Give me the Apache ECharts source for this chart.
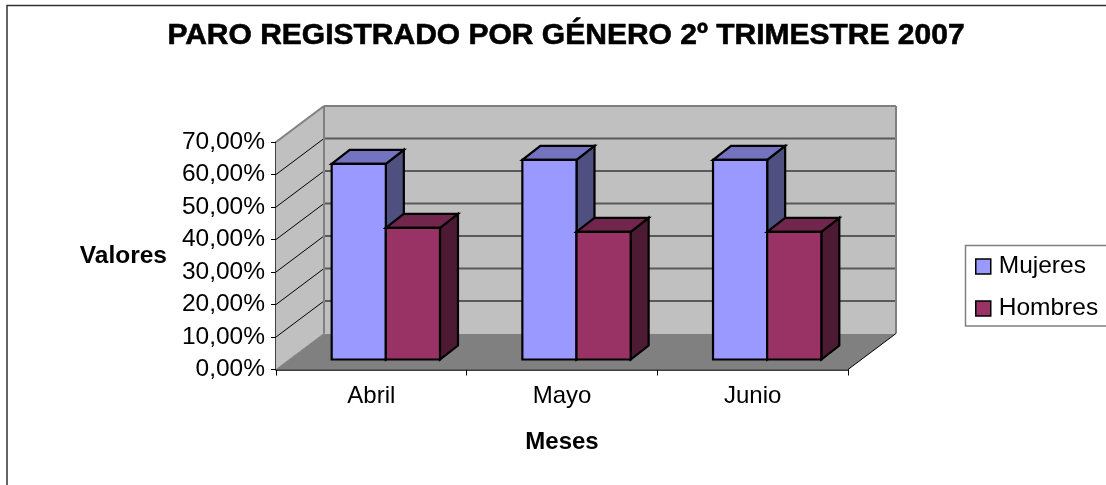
<!DOCTYPE html>
<html><head><meta charset="utf-8">
<style>html,body{margin:0;padding:0;background:#fff;overflow:hidden}#c{width:1106px;height:485px}</style>
<script src="https://cdn.jsdelivr.net/npm/echarts@6/dist/echarts.min.js"></script>
</head><body><div id="c"></div>
<script>
const chartTitle = 'PARO REGISTRADO POR GÉNERO 2º TRIMESTRE 2007';
const categories = ['Abril', 'Mayo', 'Junio'];
const mujeres = [60.2, 61.4, 61.4];
const hombres = [40.5, 39.3, 39.3];
const yTicks = [0, 10, 20, 30, 40, 50, 60, 70];

const FONT = '"Liberation Sans", Arial, sans-serif';
// 3-D projection of the chart box (style constants, in pixels)
const DEPTH_X = 48, DEPTH_Y = -36;
const BAR_SHIFT_X = 14.5, BAR_SHIFT_Y = -10, BAR_DEPTH_X = 18, BAR_DEPTH_Y = -14;
const BAR_BAND = 0.284;

function poly(points, fill, stroke, lw) {
  return {type: 'polygon', shape: {points}, style: {fill, stroke: stroke || 'none', lineWidth: lw || 0, lineJoin: 'miter'}};
}
function line(x1, y1, x2, y2, stroke, lw) {
  return {type: 'line', shape: {x1, y1, x2, y2}, style: {stroke, lineWidth: lw}};
}
function renderBox(params, api) {
  const c = params.coordSys;
  const L = c.x, R = c.x + c.width, B = c.y + c.height, T = c.y;
  const dx = DEPTH_X, dy = DEPTH_Y;
  const kids = [
    poly([[L, B], [L + dx, B + dy], [R + dx, B + dy], [R, B]], '#808080'),
    poly([[L + dx, T + dy], [R + dx, T + dy], [R + dx, B + dy], [L + dx, B + dy]], '#c0c0c0'),
    poly([[L, T], [L + dx, T + dy], [L + dx, B + dy], [L, B]], '#c0c0c0'),
  ];
  yTicks.forEach(v => {
    const y = api.coord([0, v])[1];
    if (v > 0 && v < 70) {
      kids.push(line(L, y, L + dx, y + dy, '#000', 1));
      kids.push(line(L + dx, y + dy, R + dx, y + dy, '#5a5a5a', 2));
    } else if (v === 70) {
      kids.push(line(L + dx, y + dy, R + dx, y + dy, '#808080', 2));
    }
  });
  kids.push(line(L, T, L + dx, T + dy, '#808080', 2));
  kids.push(line(L + dx, T + dy, L + dx, B + dy, '#808080', 2));
  kids.push(line(R + dx, T + dy, R + dx, B + dy, '#808080', 2));
  kids.push(line(R, B, R + dx, B + dy, '#000', 1));
  kids.push(line(L, B, L + dx, B + dy, '#808080', 1));
  return {type: 'group', children: kids};
}
function barRenderer(side, front, top, dark) {
  return function (params, api) {
    const band = api.size([1, 0])[0];
    const p = api.coord([api.value(0), api.value(1)]);
    const p0 = api.coord([api.value(0), 0]);
    const w = band * BAR_BAND;
    const cx = p[0] + BAR_SHIFT_X;
    const x0 = side === 0 ? cx - w : cx;
    const x1 = x0 + w;
    const yT = p[1] + BAR_SHIFT_Y, yB = p0[1] + BAR_SHIFT_Y;
    const dx = BAR_DEPTH_X, dy = BAR_DEPTH_Y;
    return {type: 'group', children: [
      poly([[x1, yT], [x1 + dx, yT + dy], [x1 + dx, yB + dy], [x1, yB]], dark, '#000', 2.2),
      poly([[x0, yT], [x0 + dx, yT + dy], [x1 + dx, yT + dy], [x1, yT]], top, '#000', 2.2),
      poly([[x0, yT], [x1, yT], [x1, yB], [x0, yB]], front, '#000', 2.2),
    ]};
  };
}
const pairs = arr => arr.map((v, i) => [i, v]);
const chart = echarts.init(document.getElementById('c'), null, {renderer: 'canvas'});
chart.setOption({
  animation: false,
  backgroundColor: '#fff',
  title: {text: chartTitle, left: 561, top: 16, textAlign: 'center',
    textStyle: {fontFamily: FONT, fontWeight: 'bold', fontSize: 30, color: '#000', textBorderColor: '#000', textBorderWidth: 0.6}},
  grid: {left: 276, right: 258, top: 142, bottom: 115.5},
  legend: {orient: 'vertical', left: 975, top: 254, itemWidth: 15, itemHeight: 15, itemGap: 17, padding: 0,
    textStyle: {fontFamily: FONT, fontSize: 24.5, color: '#000', padding: [0, 0, 0, 3]},
    data: [
      {name: 'Mujeres', icon: 'rect', itemStyle: {color: '#9999ff', borderColor: '#000', borderWidth: 1.5}},
      {name: 'Hombres', icon: 'rect', itemStyle: {color: '#993366', borderColor: '#000', borderWidth: 1.5}},
    ]},
  graphic: [
    {type: 'rect', z: -10, shape: {x: 7, y: 5.5, width: 1300, height: 700}, style: {fill: 'none', stroke: '#333', lineWidth: 1.5}},
    {type: 'rect', z: -10, shape: {x: 965.5, y: 245.5, width: 300, height: 80.5}, style: {fill: '#fff', stroke: '#808080', lineWidth: 1.5}},
  ],
  xAxis: {type: 'category', data: categories, name: 'Meses', nameLocation: 'middle', nameGap: 61,
    nameTextStyle: {fontFamily: FONT, fontWeight: 'bold', fontSize: 24, color: '#000'},
    axisLine: {lineStyle: {color: '#000', width: 1.5}},
    axisTick: {show: true, length: 6, lineStyle: {color: '#000', width: 1}},
    axisLabel: {fontFamily: FONT, fontSize: 24, color: '#000', margin: 15},
    splitLine: {show: false}},
  yAxis: {type: 'value', min: 0, max: 70, interval: 10, name: 'Valores', nameLocation: 'middle', nameRotate: 0, nameGap: 109,
    nameTextStyle: {fontFamily: FONT, fontWeight: 'bold', fontSize: 24.5, color: '#000'},
    axisLine: {show: true, onZero: false, lineStyle: {color: '#000', width: 1.5}},
    axisTick: {show: true, length: 5, lineStyle: {color: '#000', width: 1}},
    axisLabel: {fontFamily: FONT, fontSize: 24.5, color: '#000', margin: 11,
      formatter: v => v.toFixed(2).replace('.', ',') + '%'},
    splitLine: {show: false}},
  series: [
    {type: 'custom', name: 'box', silent: true, z: 1, data: [[0, 0]], renderItem: renderBox, encode: {x: 0, y: 1}},
    {type: 'custom', name: 'Mujeres', z: 2, data: pairs(mujeres), itemStyle: {color: '#9999ff'}, encode: {x: 0, y: 1},
      renderItem: barRenderer(0, '#9999ff', '#7373bf', '#505080')},
    {type: 'custom', name: 'Hombres', z: 3, data: pairs(hombres), itemStyle: {color: '#993366'}, encode: {x: 0, y: 1},
      renderItem: barRenderer(1, '#993366', '#73264d', '#4d1a33')},
  ],
});
</script></body></html>
